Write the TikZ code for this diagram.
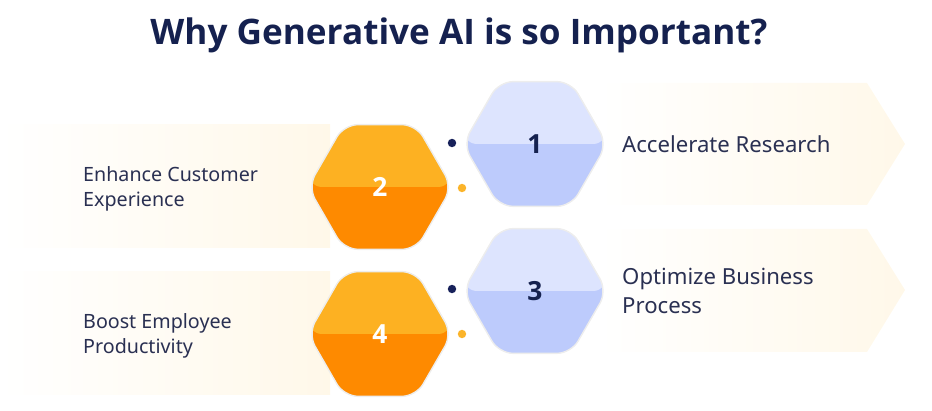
\documentclass[tikz,border=0pt]{standalone}
\usepackage{fontspec}
\setmainfont{Noto Sans}
\newfontfamily\headfont{Open Sans}
\usetikzlibrary{shapes.geometric}

\definecolor{titlenavy}{HTML}{15214F}
\definecolor{textnavy}{HTML}{2A3052}
\definecolor{hexbluetop}{HTML}{DDE4FE}
\definecolor{hexbluelow}{HTML}{BDCBFC}
\definecolor{hexorangetop}{HTML}{FDB122}
\definecolor{hexorangelow}{HTML}{FE8A00}
\definecolor{dotnavy}{HTML}{17215A}
\definecolor{dotorange}{HTML}{FBB42A}
\definecolor{bannercream}{HTML}{FFF8E9}

\tikzset{
	hexbox/.style={regular polygon, regular polygon sides=6, minimum size=2.88cm,
		inner sep=0pt, rounded corners=2.8mm, draw=black!7, line width=0.8pt,
		font=\headfont\fontsize{15}{18}\selectfont\bfseries},
	bluehex/.style={hexbox, fill=hexbluelow, text=titlenavy,
		path picture={\fill[hexbluetop] (path picture bounding box.north west) rectangle (path picture bounding box.east);}},
	orangehex/.style={hexbox, fill=hexorangelow, text=white,
		path picture={\fill[hexorangetop] (path picture bounding box.north west) rectangle (path picture bounding box.east);}},
	lefttext/.style={anchor=west, align=left, text=textnavy, font=\fontsize{11.2}{14.2}\selectfont},
	righttext/.style={anchor=west, align=left, text=textnavy, font=\fontsize{12.6}{17}\selectfont},
	banner/.style={left color=white, right color=bannercream, draw=none}
}

\begin{document}
\begin{tikzpicture}[x=0.2mm, y=-0.2mm]

\useasboundingbox (0, 0) rectangle (932, 411);

% Title
\node[text=titlenavy, font=\headfont\fontsize{20}{24}\selectfont\bfseries] (title) at (459, 35) {Why Generative AI is so Important?};

% Banners
\shade[banner] (600, 83) -- (867, 83) -- (905, 144) -- (867, 205) -- (600, 205) -- cycle;
\shade[banner] (600, 229) -- (867, 229) -- (905, 290) -- (867, 352) -- (600, 352) -- cycle;
\shade[banner] (0, 125) rectangle (330, 248);
\shade[banner] (0, 272) rectangle (330, 395);

% Hexagons
\node[bluehex] (hexA) at (535, 144) {1};
\node[orangehex] (hexB) at (380, 187) {2};
\node[bluehex] (hexC) at (535, 291) {3};
\node[orangehex] (hexD) at (380, 334) {4};

% Dots
\fill[dotnavy] (452, 143) circle (2.4pt);
\fill[dotorange] (462, 188) circle (2.4pt);
\fill[dotnavy] (452, 289) circle (2.4pt);
\fill[dotorange] (462, 334) circle (2.4pt);

% Texts
\node[righttext] (textA) at (616, 144) {Accelerate Research};
\node[lefttext] (textB) at (77, 189) {Enhance Customer\\Experience};
\node[righttext] (textC) at (616, 291) {Optimize Business\\Process};
\node[lefttext] (textD) at (77, 336) {Boost Employee\\Productivity};

\end{tikzpicture}
\end{document}
